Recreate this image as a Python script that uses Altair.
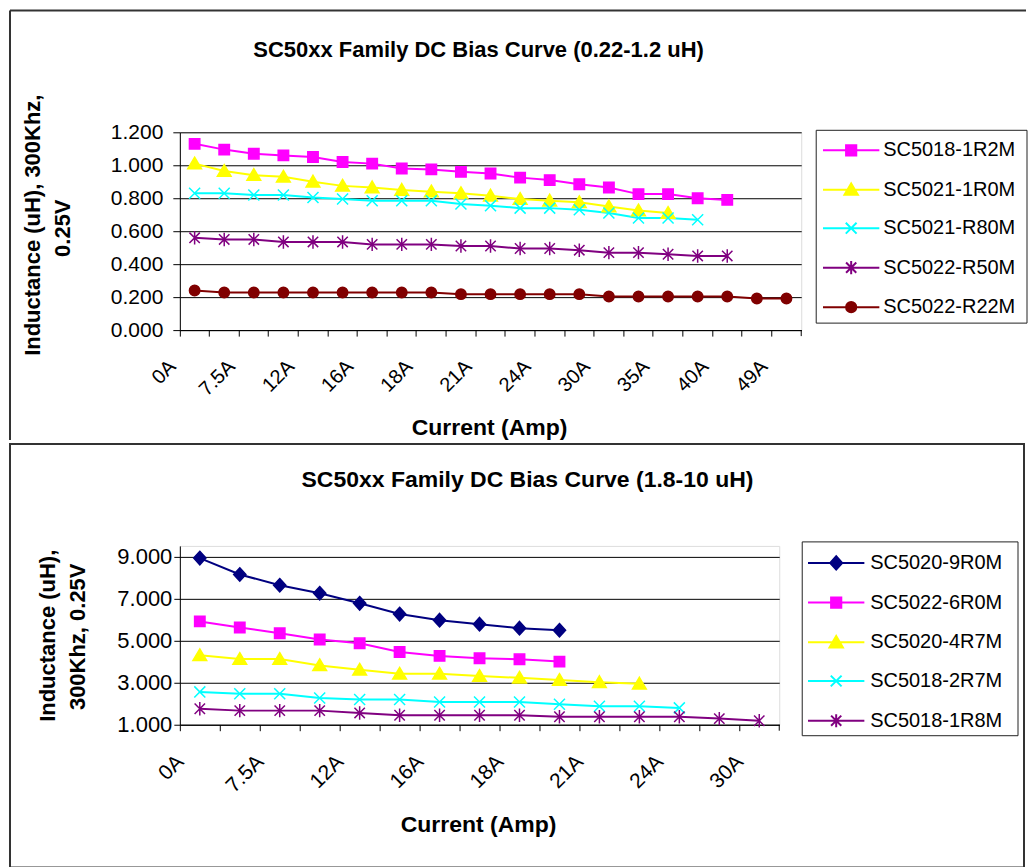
import json
import altair as alt
import pandas as pd

FONT = "Liberation Sans"
FRAME = "#333333"

# ---------------- data: top chart (0.22-1.2 uH) ----------------
top_title = "SC50xx Family DC Bias Curve (0.22-1.2 uH)"
top_labels = ["0A", "7.5A", "12A", "16A", "18A", "21A", "24A", "30A", "35A", "40A", "49A"]
top_series = ["SC5018-1R2M", "SC5021-1R0M", "SC5021-R80M", "SC5022-R50M", "SC5022-R22M"]
top_colors = ["#FF00FF", "#FFFF00", "#00FFFF", "#800080", "#800000"]
top_markers = ["square", "triangle", "x", "asterisk", "circle"]
sc5018_1r2m = [1.13, 1.095, 1.07, 1.06, 1.05, 1.02, 1.01, 0.98, 0.975, 0.96, 0.95,
               0.925, 0.91, 0.885, 0.865, 0.825, 0.825, 0.80, 0.79]
sc5021_1r0m = [1.01, 0.965, 0.94, 0.93, 0.90, 0.875, 0.865, 0.85, 0.84, 0.83, 0.815,
               0.795, 0.785, 0.775, 0.75, 0.725, 0.71]
sc5021_r80m = [0.83, 0.83, 0.82, 0.82, 0.805, 0.795, 0.785, 0.785, 0.785, 0.765, 0.755,
               0.74, 0.74, 0.73, 0.71, 0.68, 0.68, 0.67]
sc5022_r50m = [0.56, 0.55, 0.55, 0.535, 0.535, 0.535, 0.52, 0.52, 0.52, 0.51, 0.51,
               0.495, 0.495, 0.485, 0.47, 0.47, 0.46, 0.45, 0.45]
sc5022_r22m = [0.24, 0.228, 0.228, 0.228, 0.228, 0.228, 0.228, 0.228, 0.228, 0.218, 0.218,
               0.218, 0.218, 0.218, 0.204, 0.204, 0.204, 0.204, 0.204, 0.192, 0.192]
top_values = [sc5018_1r2m, sc5021_1r0m, sc5021_r80m, sc5022_r50m, sc5022_r22m]
top_yticks = [0.0, 0.2, 0.4, 0.6, 0.8, 1.0, 1.2]

# ---------------- data: bottom chart (1.8-10 uH) ----------------
bot_title = "SC50xx Family DC Bias Curve (1.8-10 uH)"
bot_labels = ["0A", "7.5A", "12A", "16A", "18A", "21A", "24A", "30A"]
bot_series = ["SC5020-9R0M", "SC5022-6R0M", "SC5020-4R7M", "SC5018-2R7M", "SC5018-1R8M"]
bot_colors = ["#000080", "#FF00FF", "#FFFF00", "#00FFFF", "#800080"]
bot_markers = ["diamond", "square", "triangle", "x", "asterisk"]
sc5020_9r0m = [8.92, 8.14, 7.63, 7.25, 6.77, 6.26, 5.97, 5.78, 5.59, 5.49]
sc5022_6r0m = [5.91, 5.62, 5.35, 5.05, 4.87, 4.46, 4.27, 4.16, 4.11, 4.00]
sc5020_4r7m = [4.30, 4.12, 4.12, 3.82, 3.61, 3.42, 3.42, 3.31, 3.23, 3.12, 3.02, 2.95]
sc5018_2r7m = [2.56, 2.47, 2.47, 2.27, 2.20, 2.20, 2.08, 2.08, 2.08, 1.97, 1.88, 1.88, 1.80]
sc5018_1r8m = [1.76, 1.67, 1.67, 1.67, 1.56, 1.45, 1.45, 1.45, 1.45, 1.38, 1.38, 1.38,
               1.38, 1.29, 1.19]
bot_values = [sc5020_9r0m, sc5022_6r0m, sc5020_4r7m, sc5018_2r7m, sc5018_1r8m]
bot_yticks = [1.0, 3.0, 5.0, 7.0, 9.0]

x_title = "Current (Amp)"
yt1, yt2 = "Inductance (uH), 300Khz,", "0.25V"
yb1, yb2 = "Inductance (uH),", "300Khz, 0.25V"

MARK = {
    "square": "M-0.85,-0.85L0.85,-0.85L0.85,0.85L-0.85,0.85Z",
    "triangle": "M0,-1.05L1.12,0.85L-1.12,0.85Z",
    "x": "M-0.9,-0.9L0.9,0.9M-0.9,0.9L0.9,-0.9",
    "asterisk": "M-0.85,-0.85L0.85,0.85M-0.85,0.85L0.85,-0.85M0,-1.1L0,1.1",
    "circle": "M0.85,0A0.85,0.85,0,1,1,-0.85,0A0.85,0.85,0,1,1,0.85,0Z",
    "diamond": "M0,-1.1L1,0L0,1.1L-1,0Z",
}
LEG_LINE = "M-4.7,0L4.7,0"


def long_df(names, lists):
    rows = []
    for name, vals in zip(names, lists):
        for i, v in enumerate(vals):
            rows.append({"series": name, "pt": i, "value": v})
    return pd.DataFrame(rows)


def text_layer(text, x, y, size, angle=0):
    return alt.Chart(pd.DataFrame({"t": [text]})).mark_text(
        font=FONT, fontSize=size, fontWeight="bold", angle=angle,
        align="center", baseline="middle", color="black"
    ).encode(text="t:N", x=alt.value(x), y=alt.value(y))


def panel(labels, series, colors, markers, values, ydom, yticks, W, H,
          ylab_size, ylab_pad, ytick_size, xlab_size, xlab_offset, xlab_pad,
          texts, frames, box, legend_xy, row_pad, sym_off, lab_off):
    df = long_df(series, values)
    n = len(labels) * 2 - 1
    label_expr = ("datum.value % 2 == 0 ? " + json.dumps(labels).replace('"', "'")
                  + "[datum.value / 2] : ''")
    xenc = alt.X("pt:O",
                 scale=alt.Scale(type="band", domain=list(range(n)), paddingInner=0, paddingOuter=0),
                 axis=alt.Axis(bandPosition=0, labelExpr=label_expr, labelAngle=-45,
                               labelFont=FONT, labelFontSize=xlab_size, labelColor="black",
                               labelPadding=xlab_pad, labelOffset=xlab_offset,
                               tickSize=6, tickColor="black",
                               domainColor="black", grid=False, labelOverlap=False),
                 title=None)
    yenc = alt.Y("value:Q",
                 scale=alt.Scale(domain=ydom, nice=False, zero=False),
                 axis=alt.Axis(values=yticks, format=".3f", labelFont=FONT,
                               labelFontSize=ylab_size, labelColor="black",
                               labelPadding=ylab_pad, tickSize=ytick_size, tickColor="black",
                               domainColor="black", grid=True, gridColor="black",
                               gridWidth=1),
                 title=None)
    cscale = alt.Scale(domain=series, range=colors)
    base = alt.Chart(df)
    lines = base.mark_line(strokeWidth=2).encode(
        x=xenc, y=yenc, color=alt.Color("series:N", scale=cscale, legend=None))
    points = base.mark_point(filled=True, size=150, strokeWidth=1.5, opacity=1).encode(
        x=xenc, y=yenc,
        color=alt.Color("series:N", scale=cscale, legend=None),
        stroke=alt.Stroke("series:N", scale=cscale, legend=None),
        shape=alt.Shape("series:N",
                        scale=alt.Scale(domain=series, range=[MARK[m] for m in markers]),
                        legend=None))
    leg = alt.Legend(orient="none", legendX=legend_xy[0], legendY=legend_xy[1], title=None,
                     padding=0, labelFont=FONT, labelFontSize=20, labelColor="black",
                     labelLimit=400, rowPadding=row_pad, symbolSize=144, symbolStrokeWidth=2,
                     symbolOffset=sym_off, labelOffset=lab_off)
    legend_layer = base.transform_filter("false").mark_point(
        filled=True, opacity=1, strokeWidth=2).encode(
        color=alt.Color("series:N", scale=cscale, legend=leg),
        stroke=alt.Stroke("series:N", scale=cscale, legend=leg),
        shape=alt.Shape("series:N",
                        scale=alt.Scale(domain=series,
                                        range=[LEG_LINE + MARK[m] for m in markers]),
                        legend=leg))
    one_row = pd.DataFrame({"k": [0]})
    legend_box = alt.Chart(one_row).mark_rect(
        fill="white", stroke="#222222", strokeWidth=1).encode(
        x=alt.value(box[0]), x2=alt.value(box[1]), y=alt.value(box[2]), y2=alt.value(box[3]))
    end_tick = alt.Chart(one_row).mark_rule(color="black", strokeWidth=1).encode(
        x=alt.value(W), y=alt.value(H), y2=alt.value(H + 6))
    layers = frames + [lines, points, end_tick, legend_box, legend_layer]
    for (t, x, y, s, a) in texts:
        layers.append(text_layer(t, x, y, s, a))
    return alt.layer(*layers).resolve_scale(
        color="independent", stroke="independent", shape="independent"
    ).properties(width=W, height=H)


one = pd.DataFrame({"k": [0]})

top_frames = [
    alt.Chart(one).mark_rule(color=FRAME, strokeWidth=2).encode(
        x=alt.value(-170), y=alt.value(-122), y2=alt.value(308)),
    alt.Chart(one).mark_rule(color=FRAME, strokeWidth=2).encode(
        x=alt.value(-170), x2=alt.value(847), y=alt.value(-122)),
]
bot_frames = [
    alt.Chart(one).mark_rect(filled=False, color=FRAME, strokeWidth=2).encode(
        x=alt.value(-170), x2=alt.value(845), y=alt.value(-102), y2=alt.value(322)),
]

top = panel(top_labels, top_series, top_colors, top_markers, top_values,
            [0, 1.2], top_yticks, 622, 198, 21, 10, 7, 20, -29, 20,
            [(top_title, 299, -82, 22, 0),
             (yt1, -147, 93, 22, 270),
             (yt2, -117, 96, 22, 270),
             (x_title, 310, 296, 23, 0)],
            top_frames, (637, 848, -2, 191), (646, 8), 18.5, 16, 22)

bottom = panel(bot_labels, bot_series, bot_colors, bot_markers, bot_values,
               [1, 9.5], bot_yticks, 600, 179, 22, 2, 6, 21, -27, 20,
               [(bot_title, 348, -66, 23, 0),
                (yb1, -132, 90, 22, 270),
                (yb2, -102, 91, 22, 270),
                (x_title, 299, 279, 23, 0)],
               bot_frames, (623, 839, -4, 190), (632, 7), 18.75, 15, 24)

chart = alt.vconcat(top, bottom, spacing=0).resolve_scale(
    color="independent", stroke="independent", shape="independent",
    x="independent", y="independent"
).properties(padding=0).configure_view(
    fill="#C0C0C0", stroke="#808080", strokeWidth=1.5
).configure(background="white")

chart.save("out.html", embed_options={"renderer": "svg", "actions": False})
